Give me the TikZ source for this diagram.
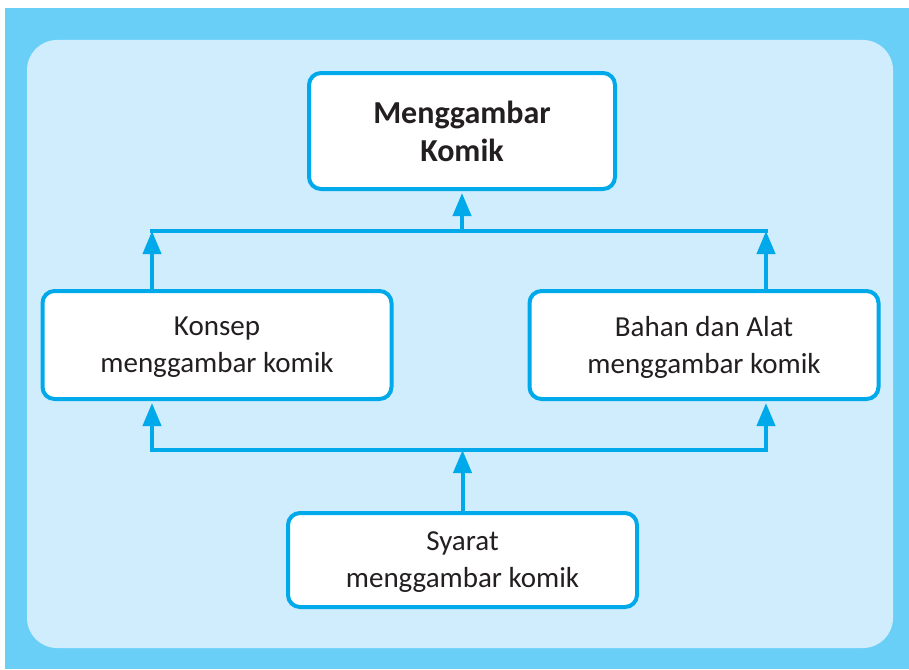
\documentclass[tikz,border=0pt]{standalone}
\usepackage{fontspec}
\setmainfont{Carlito}
\usetikzlibrary{positioning,arrows.meta}
\definecolor{kmouter}{RGB}{106,207,246}
\definecolor{kminner}{RGB}{207,237,253}
\definecolor{kmcyan}{RGB}{0,169,233}
\definecolor{kmtext}{RGB}{35,31,32}

\begin{document}
\begin{tikzpicture}[
  x=1pt, y=-1pt,
  font=\fontsize{29}{37}\selectfont,
  box/.style={rectangle, rounded corners=12pt, draw=kmcyan, line width=4pt,
    fill=white, align=center, text=kmtext, inner sep=0pt},
  mainbox/.style={box, minimum width=306pt, minimum height=116pt,
    font=\fontsize{32}{38}\selectfont\bfseries},
  subbox/.style={box, minimum width=349pt, minimum height=108pt, text depth=-1pt},
  lowbox/.style={box, minimum width=349pt, minimum height=94pt, text depth=-1pt},
  arr/.style={-{Triangle[length=23pt,width=18pt]}, line width=4pt, draw=kmcyan},
  link/.style={line width=4pt, draw=kmcyan, line cap=rect}
]
% background panels
\useasboundingbox (0,0) rectangle (909,669);
\fill[kmouter] (5,8) rectangle (909,669);
\fill[kminner, rounded corners=30pt] (27,40) rectangle (893,648);

\node[mainbox] (judul) at (462,131) {Menggambar\\Komik};
\node[subbox] (konsep) at (217,345) {Konsep\\menggambar komik};
\node[subbox, right=134pt of konsep] (bahan) {Bahan dan Alat\\menggambar komik};
\node[lowbox] (syarat) at (462.5,560) {Syarat\\menggambar komik};

% junction points
\coordinate (atasKiri) at (152,231);
\coordinate (atasKanan) at (766,231);
\coordinate (bawahKiri) at (152,450);
\coordinate (bawahKanan) at (766,450);

% upper level into the title
\draw[link] (atasKiri) -- (atasKanan);
\draw[arr] (konsep.north -| atasKiri) -- (atasKiri);
\draw[arr] (bahan.north -| atasKanan) -- (atasKanan);
\draw[arr, shorten >=2pt] (judul.south |- atasKiri) -- (judul.south);

% lower level from the requirements
\draw[link] (bawahKiri) -- (bawahKanan);
\draw[arr, shorten >=2pt] (bawahKiri) -- (konsep.south -| bawahKiri);
\draw[arr, shorten >=2pt] (bawahKanan) -- (bahan.south -| bawahKanan);
\draw[arr] (syarat.north) -- (syarat.north |- bawahKiri);
\end{tikzpicture}
\end{document}
